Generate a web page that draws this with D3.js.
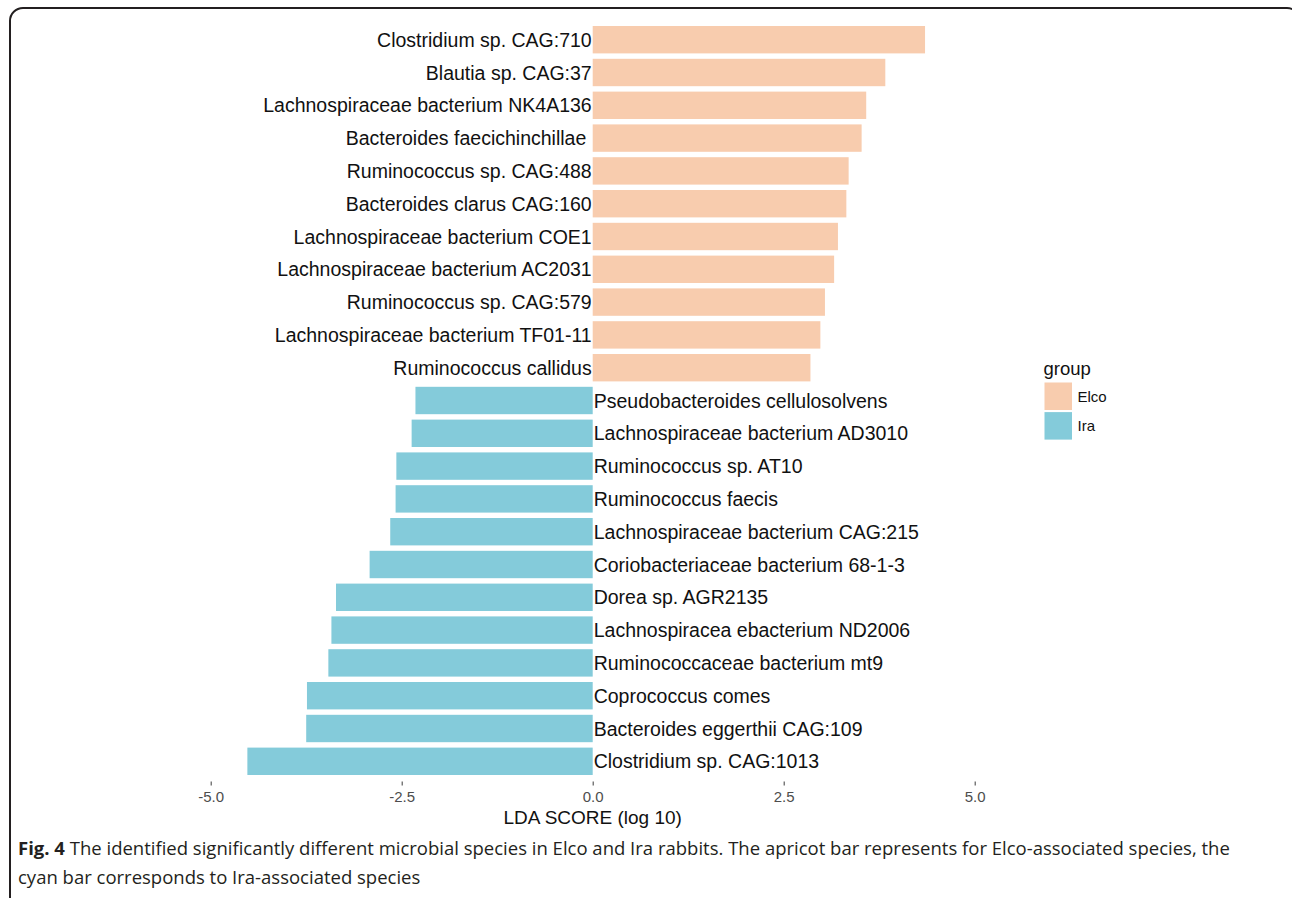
<!DOCTYPE html>
<html>
<head>
<meta charset="utf-8">
<script src="https://cdn.jsdelivr.net/npm/d3@7"></script>
<style>
  html, body { margin: 0; padding: 0; background: #fff; }
  svg { display: block; }
</style>
</head>
<body>
<svg id="chart" width="1292" height="898"></svg>
<script>
// ---- data ----
const species = [
  "Clostridium sp. CAG:710",
  "Blautia sp. CAG:37",
  "Lachnospiraceae bacterium NK4A136",
  "Bacteroides faecichinchillae ",
  "Ruminococcus sp. CAG:488",
  "Bacteroides clarus CAG:160",
  "Lachnospiraceae bacterium COE1",
  "Lachnospiraceae bacterium AC2031",
  "Ruminococcus sp. CAG:579",
  "Lachnospiraceae bacterium TF01-11",
  "Ruminococcus callidus",
  "Pseudobacteroides cellulosolvens",
  "Lachnospiraceae bacterium AD3010",
  "Ruminococcus sp. AT10",
  "Ruminococcus faecis",
  "Lachnospiraceae bacterium CAG:215",
  "Coriobacteriaceae bacterium 68-1-3",
  "Dorea sp. AGR2135",
  "Lachnospiracea ebacterium ND2006",
  "Ruminococcaceae bacterium mt9",
  "Coprococcus comes",
  "Bacteroides eggerthii CAG:109",
  "Clostridium sp. CAG:1013"
];
const ldaScores = [
  4.35, 3.83, 3.58, 3.52, 3.35, 3.32, 3.21, 3.16, 3.04, 2.98, 2.85,
  -2.32, -2.37, -2.57, -2.58, -2.65, -2.92, -3.36, -3.42, -3.46, -3.74, -3.75, -4.52
];
const groups = [
  "Elco","Elco","Elco","Elco","Elco","Elco","Elco","Elco","Elco","Elco","Elco",
  "Ira","Ira","Ira","Ira","Ira","Ira","Ira","Ira","Ira","Ira","Ira","Ira"
];
const groupNames = ["Elco", "Ira"];
const groupColors = ["#F8CCAE", "#84CBDA"];
const xTicks = [-5, -2.5, 0, 2.5, 5];
const xTitle = "LDA SCORE (log 10)";
const legendTitle = "group";
const captionBold = "Fig. 4";
const captionLine1 = " The identified significantly different microbial species in Elco and Ira rabbits. The apricot bar represents for Elco-associated species, the";
const captionLine2 = "cyan bar corresponds to Ira-associated species";

const rows = species.map((s, i) => ({ name: s, value: ldaScores[i], group: groups[i], key: i }));

// ---- layout ----
const svg = d3.select("#chart");
const font = "Liberation Sans, Arial, Helvetica, sans-serif";

// frame
svg.append("rect")
  .attr("x", 10).attr("y", 8).attr("width", 1290).attr("height", 1000)
  .attr("rx", 13).attr("ry", 13)
  .attr("fill", "none").attr("stroke", "#231f20").attr("stroke-width", 2);

const x = d3.scaleLinear().domain([-5, 5]).range([210.7, 974.7]);
const y = d3.scaleBand().domain(rows.map(d => d.key))
  .range([23.3, 777.7]).paddingInner(0.165).paddingOuter(0.0825);
const color = d3.scaleOrdinal().domain(groupNames).range(groupColors);

// bars
svg.append("g").selectAll("rect").data(rows).join("rect")
  .attr("x", d => x(Math.min(0, d.value)))
  .attr("width", d => Math.abs(x(d.value) - x(0)))
  .attr("y", d => y(d.key))
  .attr("height", y.bandwidth())
  .attr("fill", d => color(d.group));

// labels
svg.append("g").selectAll("text").data(rows).join("text")
  .attr("x", d => d.value > 0 ? x(0) - 1 : x(0) + 1)
  .attr("y", d => y(d.key) + y.bandwidth() / 2)
  .attr("dy", "0.36em")
  .attr("text-anchor", d => d.value > 0 ? "end" : "start")
  .attr("font-family", font)
  .attr("font-size", 19.5)
  .attr("fill", "#111")
  .style("white-space", "pre")
  .text(d => d.name);

// x axis
const axis = d3.axisBottom(x).tickValues(xTicks).tickFormat(d3.format(".1f"))
  .tickSize(4).tickSizeOuter(0).tickPadding(6);
const gx = svg.append("g").attr("transform", "translate(0,781.5)").call(axis);
gx.select(".domain").remove();
gx.selectAll(".tick line").attr("stroke", "#4d4d4d").attr("stroke-width", 1.1);
gx.selectAll(".tick text")
  .attr("font-family", font).attr("font-size", 15).attr("fill", "#4d4d4d")
  .text(d => d3.format(".1f")(d).replace("−", "-"));

svg.append("text")
  .attr("x", x(0)).attr("y", 824)
  .attr("text-anchor", "middle")
  .attr("font-family", font).attr("font-size", 19)
  .attr("fill", "#111")
  .text(xTitle);

// legend
const lg = svg.append("g").attr("transform", "translate(1043.5,0)");
lg.append("text").attr("x", 0).attr("y", 375)
  .attr("font-family", font).attr("font-size", 18.5).attr("fill", "#111")
  .text(legendTitle);
groupNames.forEach((g, i) => {
  const y0 = 382.5 + i * 29.6;
  lg.append("rect").attr("x", 1).attr("y", y0).attr("width", 27.5).attr("height", 27.5)
    .attr("fill", color(g));
  lg.append("text").attr("x", 34).attr("y", y0 + 13.75).attr("dy", "0.36em")
    .attr("font-family", font).attr("font-size", 15).attr("fill", "#111")
    .text(g);
});

// caption
const capFont = "'Open Sans', 'Noto Sans', sans-serif";
const c1 = svg.append("text").attr("x", 18).attr("y", 855)
  .attr("font-family", capFont).attr("font-size", 18.5).attr("fill", "#231f20")
  .style("white-space", "pre");
c1.append("tspan").attr("font-weight", "bold").text(captionBold);
c1.append("tspan").text(captionLine1);
svg.append("text").attr("x", 18).attr("y", 884)
  .attr("font-family", capFont).attr("font-size", 18.5).attr("fill", "#231f20")
  .text(captionLine2);
</script>
</body>
</html>
